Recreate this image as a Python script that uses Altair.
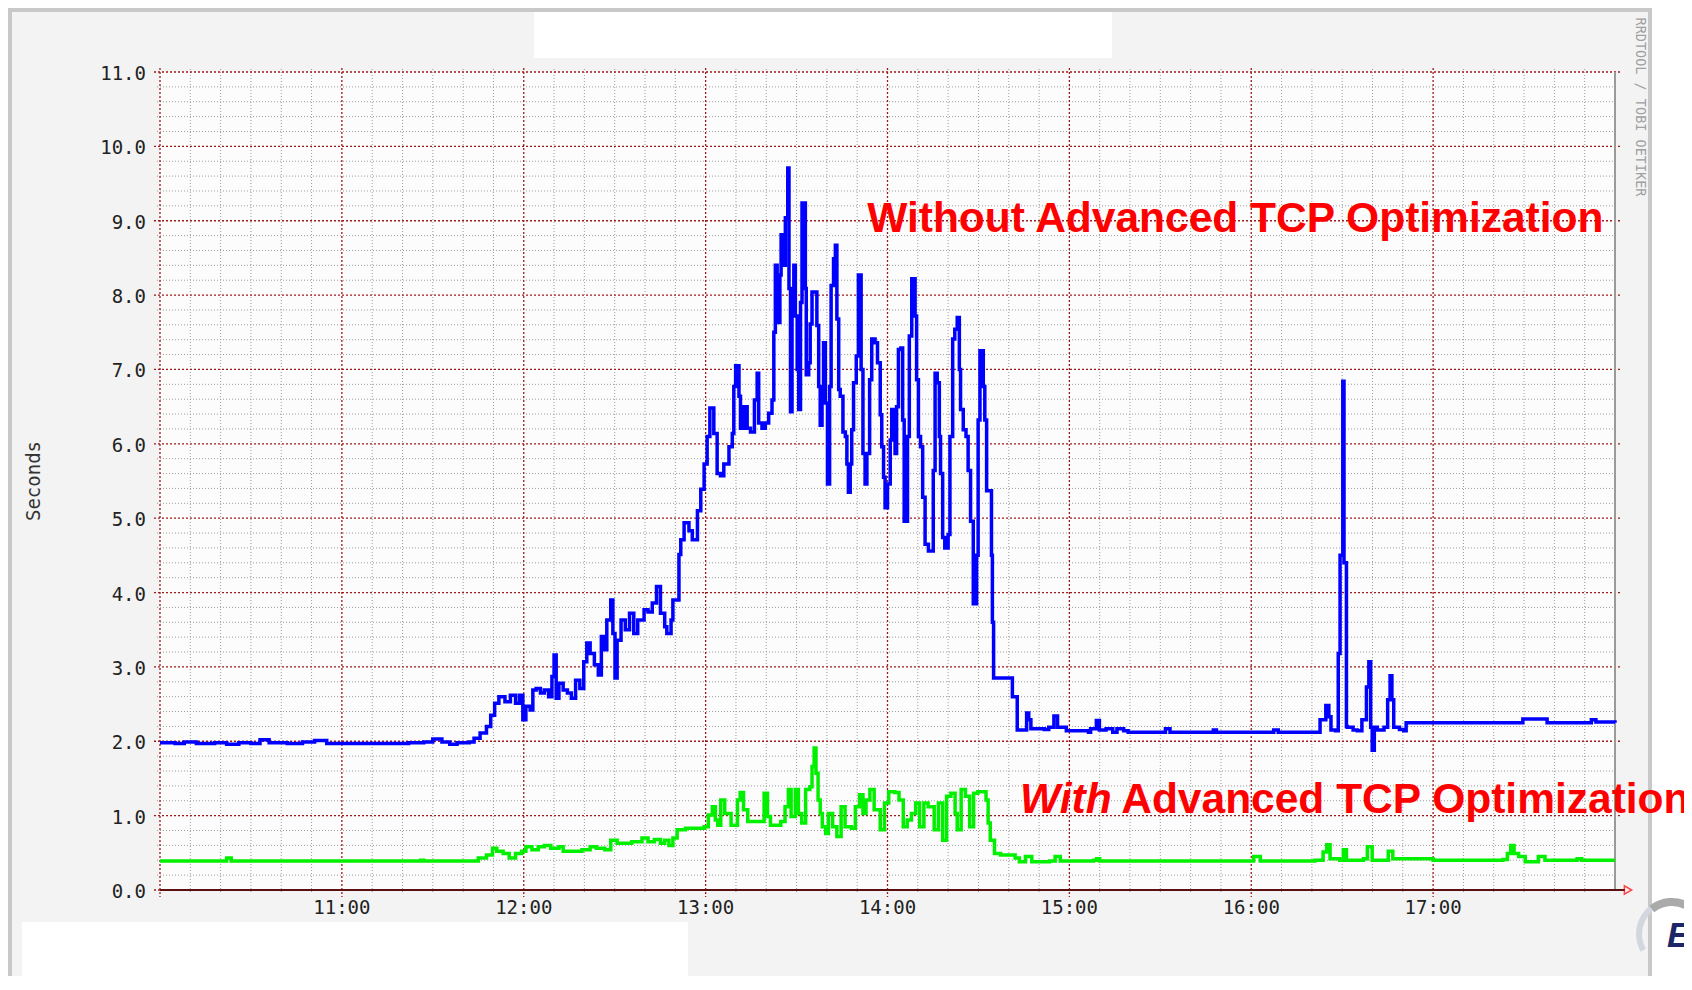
import altair as alt
import pandas as pd

# ---------------- data (minutes after 10:00, seconds) ----------------
blue_minutes = [0, 5, 8, 12, 18, 22, 26, 30, 33, 36, 42, 47, 51, 55, 62, 70, 78, 82, 87, 90, 93, 95.6, 98, 102,
                103.6, 105.6, 107.7, 109.1, 110.4, 111.8, 113.8, 115.6, 117.3, 118.6, 119.7, 120.7, 122.1, 123, 124.1,
                125.5, 126.8, 128.2, 129.3, 130, 130.7, 131.6, 133, 134.4, 135.7, 137.1, 138.5, 139.8, 140.8, 141.9,
                143.3, 144.6, 145.6, 146.7, 147.4, 148.7, 149.4, 150.1, 150.8, 152.1, 153.5, 154.9, 156.3, 157.6,
                159.7, 161, 162.4, 163.8, 165.1, 166.5, 167.2, 168.6, 169.2,
                171.2, 171.8, 172.9, 174.5, 175.6, 177.3, 178.4, 179.5, 180.5, 181.4, 182.2, 182.7, 183.8, 184.9, 186,
                187.7, 188.8, 189.3, 189.9, 190.6, 191, 191.5, 192.6, 193.7, 194.8, 196.1, 197, 197.5, 198.6, 199.7,
                200.8, 201.9, 202.5, 203, 203.6, 204.5, 204.9, 205.8, 206.3, 207.1, 207.5, 208, 208.5, 209.1, 209.6,
                210.2, 210.7, 211.3, 211.8, 212.6, 212.9, 213.2, 214, 214.5, 215.1, 216.2, 216.7, 217.3, 217.8, 218.4,
                218.9, 219.5, 220.2, 220.9, 221.4, 222.2, 222.8, 223.3, 223.9, 224.4, 225.3, 226.1, 226.6, 227.1,
                227.7, 228.2, 228.8, 229.7, 230.4, 231, 231.3, 231.9, 232.6, 233.2, 234.1, 234.8, 235.9, 236.7,
                237.6, 238.1, 238.7, 239.2, 240, 240.9, 241.4, 242, 242.5, 243, 243.6, 244.4, 245, 245.5, 246.1,
                246.6, 247.2, 248, 248.5, 249.1, 249.6, 250.2, 250.9, 251.6, 252.4, 253.5, 254.6, 255.1, 255.7,
                256.4, 257.1, 257.5, 258.2, 258.9, 260, 260.6, 261.5, 262.2, 263, 263.7, 264.1, 265, 265.9, 266.6,
                267.4, 268.3, 269.4, 269.9, 270.5, 271.6, 272.1, 272.7, 273.8, 274.3, 274.6, 275.0,
                280.1, 281.2, 282.8, 284.4, 285.9, 286.6, 287.3, 291.7, 293.2, 294.9, 296.1, 299, 306.3, 307, 308.9,
                309.9, 312.1, 314.3, 315.7, 317.9, 319.4, 331, 331.7, 333.2, 347, 347.5, 348.5, 366.7, 367.4, 368.9,
                381.9, 382.7, 384.6, 385.6, 386.3, 387.8, 388.7, 389.3, 390.2, 390.6, 391.0, 391.4, 391.7, 393.6,
                395, 396.5, 398, 398.8, 399.4, 399.9, 400.6, 401.6, 403.8, 405, 405.8, 406.4, 407, 408.9, 410.3,
                411.1, 448.9, 449.6, 456.2, 457.6, 471.5, 472.2, 473.7, 480]
blue_seconds = [1.98, 1.97, 1.99, 1.97, 1.98, 1.96, 1.98, 1.97, 2.02, 1.98, 1.97, 1.99, 2.01, 1.97, 1.97, 1.97, 1.97,
                1.98, 1.99, 2.03, 1.99, 1.96, 1.98, 1.99,
                2.04, 2.11, 2.20, 2.35, 2.51, 2.60, 2.53, 2.62, 2.51, 2.62, 2.29, 2.47, 2.42, 2.69, 2.71,
                2.65, 2.69, 2.60, 2.87, 3.16, 2.58, 2.78, 2.69, 2.65, 2.58, 2.82, 2.71, 3.07, 3.32, 3.18,
                3.03, 2.89, 3.41, 3.23, 3.63, 3.90, 3.45, 2.85, 3.36, 3.63, 3.50, 3.72, 3.45, 3.63,
                3.77, 3.74, 3.86, 4.08, 3.72, 3.54, 3.45, 3.63, 3.90,
                4.51, 4.71, 4.94, 4.83, 4.71, 5.10, 5.39, 5.73, 6.10, 6.48, 6.48, 6.14, 5.60, 5.57, 5.73,
                5.96, 6.14, 6.77, 7.05, 7.05, 6.64, 6.21, 6.50, 6.21, 6.16, 6.59, 6.95, 6.28, 6.21, 6.28,
                6.41, 6.59, 7.50, 8.40, 7.63, 8.27, 8.81, 8.40, 9.04, 9.71, 8.09, 6.43, 8.09, 8.40, 7.72,
                7.00, 6.46, 7.90, 9.24, 9.24, 8.09, 6.93, 7.09, 7.61, 8.04, 8.04, 7.59, 6.77, 6.25, 6.77,
                7.36, 6.55, 5.46, 6.77, 8.13, 8.49, 8.67, 7.68, 6.73, 6.64, 6.16, 6.10, 5.73, 5.35,
                5.73, 6.19, 6.82, 7.18, 8.27, 8.27, 7.00, 5.87, 5.46, 5.87, 6.86, 7.41, 7.36, 7.09,
                6.39, 5.96, 5.55, 5.14, 5.46, 6.05, 6.46, 6.10, 5.87, 6.50, 7.27, 7.29, 6.32, 4.96, 4.96,
                6.10, 7.45, 8.22, 8.22, 7.72, 6.86, 6.10, 5.96, 5.28, 4.65, 4.56, 4.56, 5.64, 6.95,
                6.82, 6.10, 5.60, 4.74, 4.60, 4.78, 6.10, 7.41, 7.54, 7.70, 7.00, 6.46, 6.19, 6.10, 5.64,
                4.96, 3.85, 4.50, 6.32, 7.25, 6.77, 6.32, 5.37, 5.37, 4.50, 3.60, 2.85,
                2.85, 2.60, 2.15, 2.15, 2.38, 2.29, 2.17, 2.16, 2.19, 2.34, 2.19, 2.14, 2.12, 2.17, 2.28,
                2.15, 2.17, 2.12, 2.17, 2.14, 2.12, 2.12, 2.17, 2.12, 2.12, 2.15, 2.12, 2.12, 2.15, 2.12,
                2.12, 2.29, 2.48, 2.33, 2.15, 2.14, 3.18, 4.50, 6.84, 4.40, 4.40, 2.20, 2.19, 2.15,
                2.14, 2.29, 2.73, 3.07, 2.19, 1.88, 2.19, 2.15, 2.19, 2.56, 2.88, 2.56, 2.19, 2.16, 2.14,
                2.25, 2.25, 2.30, 2.30, 2.25, 2.25, 2.29, 2.26, 2.25]

green_minutes = [0, 10, 22, 23.5, 50, 86, 87, 103.6, 105, 107.7, 109.7, 111.1, 113.2, 115.2, 117.3, 119.3, 120.7,
                 122.7, 124.8, 126.8, 128.9, 131.6, 133, 139.2, 141.9, 143.9, 146.7, 148.7, 150.8, 155.6, 159, 161,
                 163.1, 165.1, 166.5, 167.9, 169.2, 170.6, 173.4, 176.8, 179.5, 180.9, 182.2, 183.2, 184, 185, 186.3,
                 188.4, 190.5, 191.4, 192.5, 193.9, 198, 199.3, 200.4, 201.4, 204.8, 206.2, 207.3, 208.2, 209.6,
                 210.6, 211.7, 213, 214.4, 215.1, 215.8, 216.4, 217.1, 217.8, 218.5, 219.6, 220.5, 221.9, 223.3,
                 224.7, 226, 228.1, 229.4, 230.8, 231.9, 232.9, 234.2, 235.6, 237.6, 239, 240.4, 242.4, 243.8, 245.2,
                 246.5, 247.9, 249.3, 250.6, 252, 253.4, 255.4, 256.8, 258.2, 259.5, 260.9, 262.3, 263, 264.3, 265.7,
                 267.1, 268.4, 269.8, 271.2, 272.5, 273.2, 273.9, 275.3, 277.3, 280.1, 282.1, 283.5, 285.5, 287.6,
                 293.5, 295.3, 297, 308, 309, 310, 359, 360.8, 363, 381, 383.7, 384.9, 386, 389.2, 390.4, 391.4, 397,
                 398.3, 399.1, 399.9, 404, 405.2, 406.7, 420, 443, 444.5, 445.6, 446.7, 448.2, 450.4, 454.7, 456.9,
                 466, 467.5, 469, 480]
green_seconds = [0.39, 0.39, 0.43, 0.39, 0.39, 0.40, 0.39, 0.39, 0.43, 0.47, 0.56, 0.52, 0.49, 0.43, 0.49, 0.52, 0.58,
                 0.54, 0.58, 0.60, 0.56, 0.58, 0.52, 0.54, 0.58, 0.56, 0.54, 0.67, 0.63, 0.65, 0.70, 0.65,
                 0.68, 0.63, 0.67, 0.60, 0.70, 0.81, 0.83, 0.83, 0.85, 1.01, 1.12, 0.94, 0.87, 1.21, 1.03,
                 0.87, 1.21, 1.31, 1.08, 0.92, 0.92, 1.30, 0.99, 0.87, 0.92, 1.12, 1.35, 0.99, 1.35,
                 1.03, 0.90, 1.35, 1.39, 1.66, 1.91, 1.57, 1.21, 1.03, 0.85, 0.76, 1.03, 0.85, 0.72,
                 1.12, 0.85, 0.83, 1.12, 1.28, 1.03, 1.21, 1.35, 1.08, 0.81, 1.17, 1.32, 1.31, 1.21, 0.85,
                 0.94, 1.03, 1.17, 0.85, 1.17, 1.12, 0.81, 1.17, 0.67, 1.26, 1.30, 1.03, 0.81, 1.35, 1.26,
                 0.85, 1.30, 1.32, 1.32, 1.21, 0.90, 0.67, 0.49, 0.47, 0.47, 0.43, 0.38, 0.45, 0.38,
                 0.39, 0.45, 0.39, 0.40, 0.42, 0.39, 0.39, 0.45, 0.39, 0.40, 0.51, 0.61, 0.42, 0.40, 0.54, 0.40, 0.42,
                 0.58, 0.58, 0.40, 0.40, 0.52, 0.42, 0.40, 0.41, 0.49, 0.60, 0.49, 0.45, 0.38, 0.45, 0.40,
                 0.40, 0.42, 0.40, 0.40]

y_major = [0, 1, 2, 3, 4, 5, 6, 7, 8, 9, 10, 11]
y_tick_labels = ["0.0", "1.0", "2.0", "3.0", "4.0", "5.0", "6.0", "7.0", "8.0", "9.0", "10.0", "11.0"]
y_minor = [round(i * 0.2, 1) for i in range(1, 55) if i % 5 != 0]
hour_minutes = [0, 60, 120, 180, 240, 300, 360, 420]
minor_minutes = [m for m in range(10, 480, 10) if m % 60 != 0]
x_tick_minutes = [60, 120, 180, 240, 300, 360, 420]
x_tick_labels = ["11:00", "12:00", "13:00", "14:00", "15:00", "16:00", "17:00"]
y_title = "Seconds"

note_texts = ["Without Advanced TCP Optimization", "With", "Advanced TCP Optimization"]
note_minutes = [233.3, 283.7, 317.1]
note_seconds = [8.85, 1.03, 1.03]

# ---------------- layout ----------------
W, H = 1455, 818
MONO = "DejaVu Sans Mono"

xs = alt.Scale(domain=[0, 480], nice=False, zero=False)
ys = alt.Scale(domain=[0, 11], nice=False, zero=True)

deco = alt.Data(values=[{"k": 0}])

canvas = alt.Chart(deco).mark_rect(fill="#f3f3f3", stroke="#c8c8c8", strokeWidth=4).encode(
    x=alt.value(-150), x2=alt.value(1490), y=alt.value(-62), y2=alt.value(960))
plot_bg = alt.Chart(deco).mark_rect(fill="#fcfcfc").encode(
    x=alt.value(0), x2=alt.value(W), y=alt.value(0), y2=alt.value(H))
top_box = alt.Chart(deco).mark_rect(fill="#ffffff").encode(
    x=alt.value(374), x2=alt.value(952), y=alt.value(-60), y2=alt.value(-14))
bottom_box = alt.Chart(deco).mark_rect(fill="#ffffff").encode(
    x=alt.value(-138), x2=alt.value(528), y=alt.value(850), y2=alt.value(960))

minor_h = alt.Chart(pd.DataFrame({"v": y_minor})).mark_rule(
    color="#9c9c9c", strokeDash=[1, 2], strokeWidth=1).encode(
    y=alt.Y("v:Q", scale=ys, axis=None), x=alt.value(-3), x2=alt.value(W + 3))
minor_v = alt.Chart(pd.DataFrame({"m": minor_minutes})).mark_rule(
    color="#9c9c9c", strokeDash=[1, 2], strokeWidth=1).encode(
    x=alt.X("m:Q", scale=xs, axis=None), y=alt.value(-3), y2=alt.value(H + 4))
major_h = alt.Chart(pd.DataFrame({"v": y_major})).mark_rule(
    color="#9e1a1a", strokeDash=[2, 2], strokeWidth=1.3).encode(
    y=alt.Y("v:Q", scale=ys, axis=None), x=alt.value(-6), x2=alt.value(W + 6))
major_v = alt.Chart(pd.DataFrame({"m": hour_minutes})).mark_rule(
    color="#9e1a1a", strokeDash=[2, 2], strokeWidth=1.3).encode(
    x=alt.X("m:Q", scale=xs, axis=None), y=alt.value(-4), y2=alt.value(H + 7))
right_border = alt.Chart(deco).mark_rule(color="#9a9a9a", strokeWidth=2).encode(
    x=alt.value(W), y=alt.value(0), y2=alt.value(H))
x_line = alt.Chart(deco).mark_rule(color="#5a1010", strokeWidth=2).encode(
    x=alt.value(0), x2=alt.value(W + 10), y=alt.value(H))
arrow = alt.Chart(deco).mark_point(shape="triangle-right", filled=False, color="#ff0000",
                                   size=70, strokeWidth=1.5).encode(x=alt.value(W + 13), y=alt.value(H))

# tick labels and axis title as text
ylab = alt.Chart(pd.DataFrame({"v": y_major, "s": y_tick_labels})).mark_text(
    font=MONO, fontSize=19, color="#222222", align="right", baseline="middle", dy=2).encode(
    y=alt.Y("v:Q", scale=ys, axis=None), x=alt.value(-14), text="s:N")
xlab = alt.Chart(pd.DataFrame({"m": x_tick_minutes, "s": x_tick_labels})).mark_text(
    font=MONO, fontSize=19, color="#222222", align="center", baseline="middle").encode(
    x=alt.X("m:Q", scale=xs, axis=None), y=alt.value(H + 18), text="s:N")
ytitle = alt.Chart(deco).mark_text(font=MONO, fontSize=19, color="#333333", angle=270, align="center",
                                   baseline="middle").encode(
    x=alt.value(-126), y=alt.value(H / 2), text=alt.value(y_title))

blue_df = pd.DataFrame({"t": blue_minutes, "v": blue_seconds})
green_df = pd.DataFrame({"t": green_minutes, "v": green_seconds})

blue = alt.Chart(blue_df).mark_line(color="#0000ff", strokeWidth=3.5, interpolate="step-after").encode(
    x=alt.X("t:Q", scale=xs, axis=None), y=alt.Y("v:Q", scale=ys, axis=None))
green = alt.Chart(green_df).mark_line(color="#00f000", strokeWidth=3.5, interpolate="step-after").encode(
    x=alt.X("t:Q", scale=xs, axis=None), y=alt.Y("v:Q", scale=ys, axis=None))

notes = pd.DataFrame({"s": note_texts, "t": note_minutes, "v": note_seconds})
note_without = alt.Chart(notes.iloc[[0]]).mark_text(
    align="left", baseline="alphabetic", font="Liberation Sans", fontWeight="bold", fontSize=42.5,
    color="#ff0000").encode(x=alt.X("t:Q", scale=xs, axis=None), y=alt.Y("v:Q", scale=ys, axis=None),
                            text="s:N")
note_with = alt.Chart(notes.iloc[[1]]).mark_text(
    align="left", baseline="alphabetic", font="Liberation Sans", fontWeight="bold", fontStyle="italic",
    fontSize=42.5, color="#ff0000").encode(x=alt.X("t:Q", scale=xs, axis=None),
                                           y=alt.Y("v:Q", scale=ys, axis=None), text="s:N")
note_rest = alt.Chart(notes.iloc[[2]]).mark_text(
    align="left", baseline="alphabetic", font="Liberation Sans", fontWeight="bold", fontSize=42.5,
    color="#ff0000").encode(x=alt.X("t:Q", scale=xs, axis=None), y=alt.Y("v:Q", scale=ys, axis=None),
                            text="s:N")

rrd = alt.Chart(deco).mark_text(angle=90, font=MONO, fontSize=13.5, color="#a0a0a0", align="center",
                                baseline="middle").encode(
    x=alt.value(1480), y=alt.value(35), text=alt.value("RRDTOOL / TOBI OETIKER"))

logo_arc = alt.Chart(deco).mark_arc(color="#aaaaaa").encode(
    x=alt.value(1512), y=alt.value(862), radius=alt.value(36), radius2=alt.value(28),
    theta=alt.value(5.6), theta2=alt.value(8.0))
logo_arc2 = alt.Chart(deco).mark_arc(color="#d2d6de").encode(
    x=alt.value(1512), y=alt.value(862), radius=alt.value(36), radius2=alt.value(30),
    theta=alt.value(4.2), theta2=alt.value(5.6))
logo_e = alt.Chart(deco).mark_text(font="Liberation Sans", fontWeight="bold", fontStyle="italic",
                                   fontSize=35, color="#1b2766", align="left", baseline="alphabetic").encode(
    x=alt.value(1507), y=alt.value(875), text=alt.value("E"))

chart = alt.layer(
    canvas, plot_bg, top_box, bottom_box,
    minor_h, minor_v, major_h, major_v, right_border, x_line, arrow,
    ylab, xlab, ytitle,
    green, blue,
    note_without, note_with, note_rest, rrd, logo_arc, logo_arc2, logo_e,
).properties(
    width=W, height=H,
    autosize=alt.AutoSizeParams(type="none"),
    padding={"left": 152, "top": 64, "right": 69, "bottom": 86},
    background="#ffffff",
).configure_view(stroke=None)

chart.save("out.html", embed_options={"renderer": "svg", "actions": False})
